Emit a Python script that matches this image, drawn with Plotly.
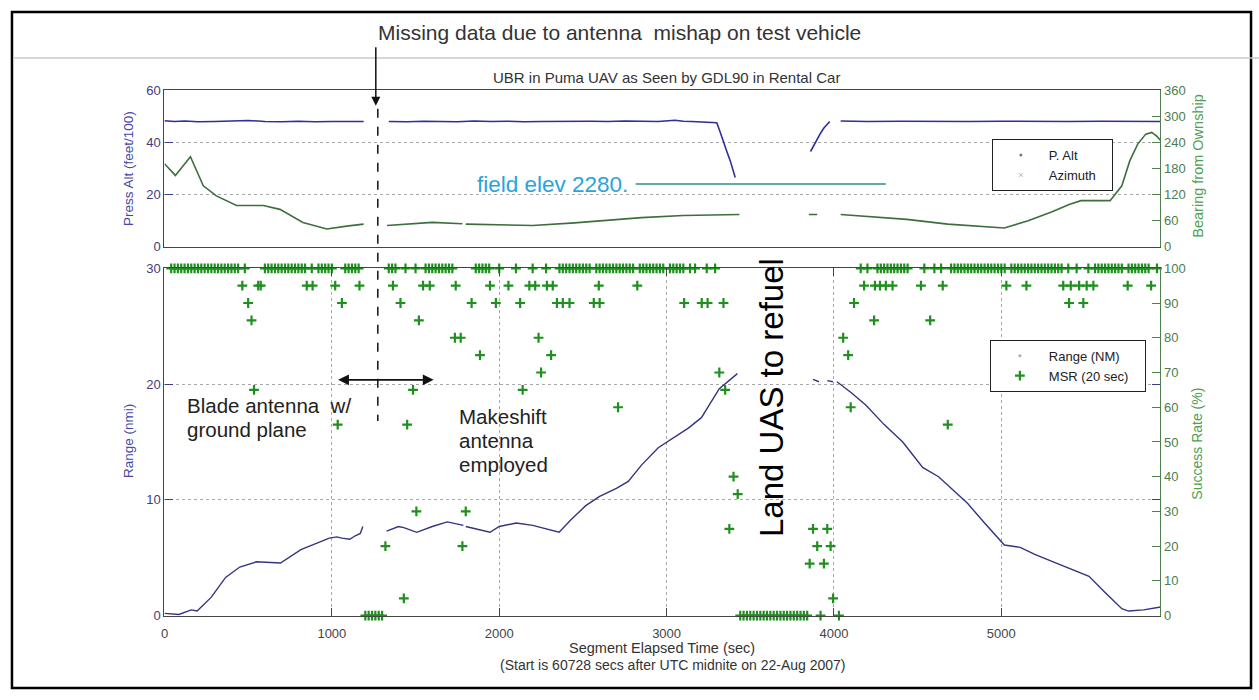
import plotly.graph_objects as go

W, H = 1259, 700
def PX(x): return x / W
def PY(y): return 1 - y / H

FONT = "Liberation Sans, Arial, sans-serif"

# ---------------- data ----------------
# Top panel: pressure altitude (feet/100), left axis
palt_t = [0, 60, 120, 200, 300, 400, 500, 600, 700, 800, 900, 1000, 1100, 1190, 1195,
          1340, 1450, 1550, 1650, 1750, 1850, 1950, 2050, 2150, 2250, 2350, 2450, 2550,
          2650, 2750, 2850, 2950, 3050, 3100, 3150, 3200, 3260, 3300, 3320, 3340, 3360,
          3380, 3395, 3410, 3415,
          3860, 3880, 3900, 3920, 3940, 3960, 3975, 3980,
          4040, 4200, 4400, 4600, 4800, 5000, 5200, 5400, 5600, 5800, 5950]
palt = [48.3, 48.0, 48.2, 47.9, 48.0, 48.1, 48.4, 48.0, 47.9, 48.1, 47.9, 48.0, 48.1, 48.0, None,
        48.0, 47.9, 48.1, 48.0, 47.9, 48.2, 48.0, 48.1, 47.9, 48.0, 48.1, 48.0, 48.1,
        48.0, 48.2, 48.1, 48.0, 48.5, 48.1, 48.0, 47.9, 47.8, 47.5, 44.0, 40.0, 36.5,
        33.0, 29.5, 26.5, None,
        36.5, 39.0, 41.5, 43.5, 45.5, 47.2, 48.0, None,
        48.2, 48.0, 48.1, 48.0, 48.0, 48.1, 48.0, 48.0, 48.1, 48.0, 48.0]

# Top panel: azimuth / bearing from ownship (deg), right axis
az_t = [0, 65, 155, 232, 310, 430, 590, 690, 827, 970, 1100, 1190, 1195,
        1330, 1600, 1780, 1790, 1800, 2000, 2200, 2450, 2700, 2850, 3100, 3300, 3435, 3440,
        3850, 3900, 3905, 4040, 4200, 4435, 4680, 4850, 5018, 5160, 5300, 5405, 5476,
        5650, 5720, 5768, 5815, 5863, 5899, 5930, 5950]
az = [191, 164, 207, 140, 117, 95, 95, 86, 56, 41, 48, 52, None,
      49, 56, 53, None, 52, 50, 49, 55, 62, 67, 72, 73, 74, None,
      74, 74, None, 74, 70, 63, 52, 47, 43, 60, 80, 97, 106,
      106, 140, 198, 236, 259, 263, 254, 245]

# Bottom panel: range (nmi), left axis
rng_t = [0, 86, 160, 195, 280, 365, 450, 548, 693, 815, 985, 1030, 1060, 1107, 1140, 1170,
         1185, 1190,
         1327, 1398, 1430, 1507, 1600, 1690, 1786, 1790, 1800, 1945, 2000, 2102, 2200, 2358,
         2430, 2517, 2600, 2700, 2771, 2850, 2950, 3048, 3130, 3208, 3315, 3423, 3430,
         3875, 3910, 3915, 3960, 3994, 3998,
         4018, 4100, 4190, 4300, 4411, 4530, 4625, 4700, 4798, 4900, 5018, 5113, 5200,
         5310, 5420, 5524, 5620, 5720, 5760, 5850, 5952]
rng = [0.2, 0.1, 0.5, 0.4, 1.6, 3.3, 4.2, 4.65, 4.55, 5.7, 6.7, 6.8, 6.7, 6.6, 6.9, 7.1,
       7.7, None,
       7.3, 7.7, 7.6, 7.2, 7.7, 8.1, 7.8, None, 7.7, 7.2, 7.7, 8.0, 7.8, 7.2,
       8.3, 9.5, 10.3, 11.0, 11.6, 13.0, 14.5, 15.4, 16.2, 17.1, 19.6, 20.9, None,
       20.4, 20.2, None, 20.3, 20.2, None,
       20.2, 19.3, 18.2, 16.5, 15.0, 12.8, 12.0, 11.0, 9.7, 8.0, 6.1, 5.9, 5.3,
       4.65, 4.0, 3.4, 2.0, 0.6, 0.4, 0.5, 0.75]

# Bottom panel: message success rate (%) over 20 s windows, right axis
msr_t_100 = [40, 60, 80, 100, 120, 140, 160, 180, 200, 220, 240, 260, 280, 300, 320, 340,
             360, 380, 400, 420, 440, 480,
             600, 620, 640, 660, 680, 700, 720, 740, 760, 780, 800, 820, 840, 880,
             920, 940, 960, 980, 1000, 1080, 1100, 1120, 1140, 1160,
             1340, 1360, 1380, 1440, 1500,
             1560, 1580, 1600, 1620, 1640, 1660, 1680, 1700, 1720,
             1860, 1880, 1900, 1920, 1940, 2000, 2100, 2200, 2280,
             2360, 2380, 2400, 2420, 2440, 2460, 2480, 2500, 2520, 2540,
             2580, 2600, 2620, 2640, 2660, 2680, 2700, 2720, 2740, 2760, 2780, 2800,
             2840, 2860, 2880, 2900, 2920, 2940, 2960, 2980,
             3020, 3040, 3060, 3080, 3100, 3140, 3170, 3240, 3290,
             4160, 4200, 4260, 4280, 4300, 4320, 4340, 4360, 4380, 4400, 4420, 4440,
             4540, 4600, 4640,
             4700, 4720, 4740, 4760, 4780, 4800, 4820, 4840, 4860, 4880, 4900, 4920,
             4940, 4960, 4980, 5000, 5020,
             5060, 5080, 5100, 5120, 5140, 5160, 5180, 5200, 5220, 5240, 5260, 5280,
             5300, 5320, 5340, 5360, 5400, 5450,
             5520, 5560, 5580, 5600, 5620, 5640, 5660, 5680, 5700, 5720,
             5760, 5780, 5800, 5820, 5840, 5860, 5880, 5930]
msr_t_95 = [465, 560, 575, 850, 885, 1020, 1165, 1365, 1545, 1585, 1740, 1945, 2055, 2180,
            2215, 2285, 2320, 2595, 2825, 4180, 4245, 4275, 4310, 4350, 4520, 4650, 5030,
            5150, 5370, 5415, 5465, 5510, 5550, 5755, 5895]
msr_t_90 = [500, 1060, 1410, 1835, 1980, 2125, 2345, 2380, 2420, 2565, 2600, 3105, 3210,
            3245, 3340, 4120, 5405, 5490]
msr_t_85 = [520, 1520, 4240, 4575]
msr_t_80 = [1735, 1770, 2235, 4055]
msr_t_75 = [1885, 2310, 4085]
msr_t_70 = [2250, 3315]
msr_t_65 = [535, 1485, 2140, 3350]
msr_t_60 = [2710, 4100]
msr_t_55 = [1035, 1450, 4680]
msr_t_40 = [3400]
msr_t_35 = [3425]
msr_t_30 = [1505, 1800]
msr_t_25 = [3375, 3875, 3960]
msr_t_20 = [1320, 1780, 3900, 3980]
msr_t_15 = [3855, 3940]
msr_t_5 = [1430, 3995]
msr_t_0 = [1200, 1220, 1240, 1260, 1280, 1300,
           3440, 3460, 3480, 3500, 3520, 3540, 3560, 3580, 3600, 3620, 3640, 3660, 3680,
           3700, 3720, 3740, 3760, 3780, 3800, 3820, 3840, 3920, 4030]

msr_levels = [100, 95, 90, 85, 80, 75, 70, 65, 60, 55, 40, 35, 30, 25, 20, 15, 5, 0]
msr_times = [msr_t_100, msr_t_95, msr_t_90, msr_t_85, msr_t_80, msr_t_75, msr_t_70,
             msr_t_65, msr_t_60, msr_t_55, msr_t_40, msr_t_35, msr_t_30, msr_t_25,
             msr_t_20, msr_t_15, msr_t_5, msr_t_0]

x_ticks = [0, 1000, 2000, 3000, 4000, 5000]
alt_ticks = [0, 20, 40, 60]
brg_ticks = [0, 60, 120, 180, 240, 300, 360]
rng_ticks = [0, 10, 20, 30]
sr_ticks = [0, 10, 20, 30, 40, 50, 60, 70, 80, 90, 100]

# ---------------- figure ----------------
BLUE = "#2e2e9c"
GREEN_LINE = "#3d6e3d"
MSR_GREEN = "#1f8f1f"
AXBLUE = "#3b3b8f"
AXGREEN = "#4f7f4f"
TXBLUE = "#4646a8"
TXGREEN = "#4fa04f"

fig = go.Figure()

fig.add_trace(go.Scatter(x=palt_t, y=palt, xaxis="x2", yaxis="y", mode="lines",
                         line=dict(color=BLUE, width=1.6), showlegend=False,
                         connectgaps=False))
fig.add_trace(go.Scatter(x=az_t, y=az, xaxis="x2", yaxis="y2", mode="lines",
                         line=dict(color=GREEN_LINE, width=1.6), showlegend=False,
                         connectgaps=False))
fig.add_trace(go.Scatter(x=rng_t, y=rng, xaxis="x", yaxis="y3", mode="lines",
                         line=dict(color="#34347f", width=1.4), showlegend=False,
                         connectgaps=False))

mx, my = [], []
for lev, ts in zip(msr_levels, msr_times):
    mx += ts
    my += [lev] * len(ts)
MSR_MARKER = dict(symbol="cross-thin", size=7, color=MSR_GREEN,
                  line=dict(color=MSR_GREEN, width=2.2))
fig.add_trace(go.Scatter(x=mx, y=my, xaxis="x", yaxis="y4", mode="markers",
                         marker=MSR_MARKER, cliponaxis=False, showlegend=False))

# legend entries
fig.add_trace(go.Scatter(x=[None], y=[None], xaxis="x2", yaxis="y", mode="markers",
                         marker=dict(size=3, color="#777"), name="P. Alt",
                         legend="legend"))
fig.add_trace(go.Scatter(x=[None], y=[None], xaxis="x2", yaxis="y2", mode="markers",
                         marker=dict(size=4, symbol="x-thin", color="#bbb",
                                     line=dict(color="#bbb", width=1)),
                         name="Azimuth\u00a0\u00a0\u00a0", legend="legend"))
fig.add_trace(go.Scatter(x=[None], y=[None], xaxis="x", yaxis="y3", mode="markers",
                         marker=dict(size=3, color="#aaa"), name="Range (NM)",
                         legend="legend2"))
fig.add_trace(go.Scatter(x=[None], y=[None], xaxis="x", yaxis="y4", mode="markers",
                         marker=MSR_MARKER, name="MSR (20 sec)\u00a0\u00a0\u00a0",
                         legend="legend2"))

xd = [PX(161), PX(1160)]
top_d = [PY(245), PY(85)]
bot_d = [PY(622), PY(267)]
tickf = dict(family=FONT, size=13, color="#444")
grid = dict(showgrid=True, gridcolor="#a8a8a8", griddash="dot", gridwidth=1)

fig.update_layout(
    width=W, height=H, margin=dict(l=0, r=0, t=0, b=0),
    paper_bgcolor="white", plot_bgcolor="white",
    font=dict(family=FONT, color="#222"),
    xaxis=dict(domain=xd, range=[0, 5950], anchor="y3", tickvals=x_ticks,
               ticks="inside", ticklen=8, tickcolor="#444", showline=True,
               linecolor="#444", linewidth=1.2, mirror="ticks", zeroline=False,
               tickfont=tickf, ticklabelstandoff=6, **grid),
    xaxis2=dict(domain=xd, range=[0, 5950], anchor="y", matches="x",
                showticklabels=False, ticks="", showline=True, linecolor="#444",
                linewidth=1.2, mirror=True, showgrid=False, zeroline=False),
    yaxis=dict(domain=top_d, range=[0, 60], anchor="x2", tickvals=alt_ticks,
               ticks="inside", ticklen=8, tickcolor=AXBLUE, showline=True,
               linecolor=AXBLUE, linewidth=1.2, zeroline=False,
               tickfont=dict(family=FONT, size=13, color="#3d3d80"), **grid),
    yaxis2=dict(overlaying="y", side="right", range=[0, 360], anchor="x2",
                tickvals=brg_ticks, ticks="inside", ticklen=8, tickcolor=AXGREEN,
                showline=True, linecolor=AXGREEN, linewidth=1.2, showgrid=False,
                zeroline=False, tickfont=dict(family=FONT, size=13, color="#4d7d4d")),
    yaxis3=dict(domain=bot_d, range=[0, 30], anchor="x", tickvals=rng_ticks,
                ticks="inside", ticklen=8, tickcolor=AXBLUE, showline=True,
                linecolor=AXBLUE, linewidth=1.2, mirror="ticks", zeroline=False,
                tickfont=dict(family=FONT, size=13, color="#3d3d80"), **grid),
    yaxis4=dict(overlaying="y3", side="right", range=[0, 100], anchor="x",
                tickvals=sr_ticks, ticks="inside", ticklen=8, tickcolor=AXGREEN,
                showline=True, linecolor=AXGREEN, linewidth=1.2, showgrid=False,
                zeroline=False, tickfont=dict(family=FONT, size=13, color="#4d7d4d")),
    legend=dict(x=PX(991), y=PY(135), xanchor="left", yanchor="top",
                bordercolor="#222", borderwidth=1, bgcolor="white", itemwidth=46,
                font=dict(family=FONT, size=13, color="#222"), tracegroupgap=0),
    legend2=dict(x=PX(989), y=PY(340), xanchor="left", yanchor="top",
                 bordercolor="#222", borderwidth=1, bgcolor="white", itemwidth=48,
                 font=dict(family=FONT, size=13, color="#222"), tracegroupgap=0),
)

ann = []
def txt(x, y, s, size, color="#222", xanchor="center", yanchor="middle", angle=0):
    ann.append(dict(x=PX(x), y=PY(y), xref="paper", yref="paper", text=s,
                    showarrow=False, xanchor=xanchor, yanchor=yanchor,
                    textangle=angle, font=dict(family=FONT, size=size, color=color)))

txt(617, 26, "Missing data due to antenna\u00a0 mishap on test vehicle", 21, "#333")
txt(665, 72, "UBR in Puma UAV as Seen by GDL90 in Rental Car", 15, "#333")
txt(628, 181, "field elev 2280.", 22.5, "#2aa3da", xanchor="right")
txt(182, 407, "Blade antenna\u00a0 w/", 20.5, "#222", xanchor="left")
txt(182, 432, "ground plane", 20.5, "#222", xanchor="left")
txt(454, 418, "Makeshift", 20.5, "#222", xanchor="left")
txt(454, 443, "antenna", 20.5, "#222", xanchor="left")
txt(454, 468, "employed", 20.5, "#222", xanchor="left")
txt(770, 399, "Land UAS to refuel", 33, "#000", angle=-90)
txt(660, 655, "Segment Elapsed Time (sec)", 14.5, "#333")
txt(671, 672, "(Start is 60728 secs after UTC midnite on 22-Aug 2007)", 14, "#333")
txt(125, 165, "Press Alt (feet/100)", 13.5, TXBLUE, angle=-90)
txt(125, 444, "Range (nmi)", 13.5, TXBLUE, angle=-90)
txt(1197, 163, "Bearing from Ownship", 14.5, TXGREEN, angle=-90)
txt(1197, 446, "Success Rate (%)", 14, TXGREEN, angle=-90)

# arrows
ann.append(dict(x=PX(373), y=PY(101), xref="paper", yref="paper", text="",
                showarrow=True, ax=0, ay=-60, arrowhead=2, arrowsize=1.2,
                arrowwidth=1.5, arrowcolor="#111"))
ann.append(dict(x=PX(431), y=PY(381), xref="paper", yref="paper", text="",
                showarrow=True, ax=-97, ay=0, arrowhead=2, arrowsize=1.2,
                arrowwidth=1.8, arrowcolor="#111", arrowside="end+start",
                startarrowhead=2, startarrowsize=1.2))
fig.update_layout(annotations=ann)

shapes = [
    # outer frame
    dict(type="rect", xref="paper", yref="paper", x0=PX(8), x1=PX(1251),
         y0=PY(696), y1=PY(5), line=dict(color="#000", width=2.5)),
    # figure window top line
    dict(type="line", xref="paper", yref="paper", x0=PX(9), x1=PX(1259),
         y0=PY(52), y1=PY(52), line=dict(color="#c8c8c8", width=1.5)),
    # missing-data dashed marker
    dict(type="line", xref="paper", yref="paper", x0=PX(375), x1=PX(375),
         y0=PY(104), y1=PY(423), line=dict(color="#111", width=1.5, dash="dash")),
    # field elevation line
    dict(type="line", xref="x2", yref="y", x0=2815, x1=4310, y0=24, y1=24,
         line=dict(color="#2f8f8f", width=1.5)),
]
fig.update_layout(shapes=shapes)

fig.write_html("out.html")
